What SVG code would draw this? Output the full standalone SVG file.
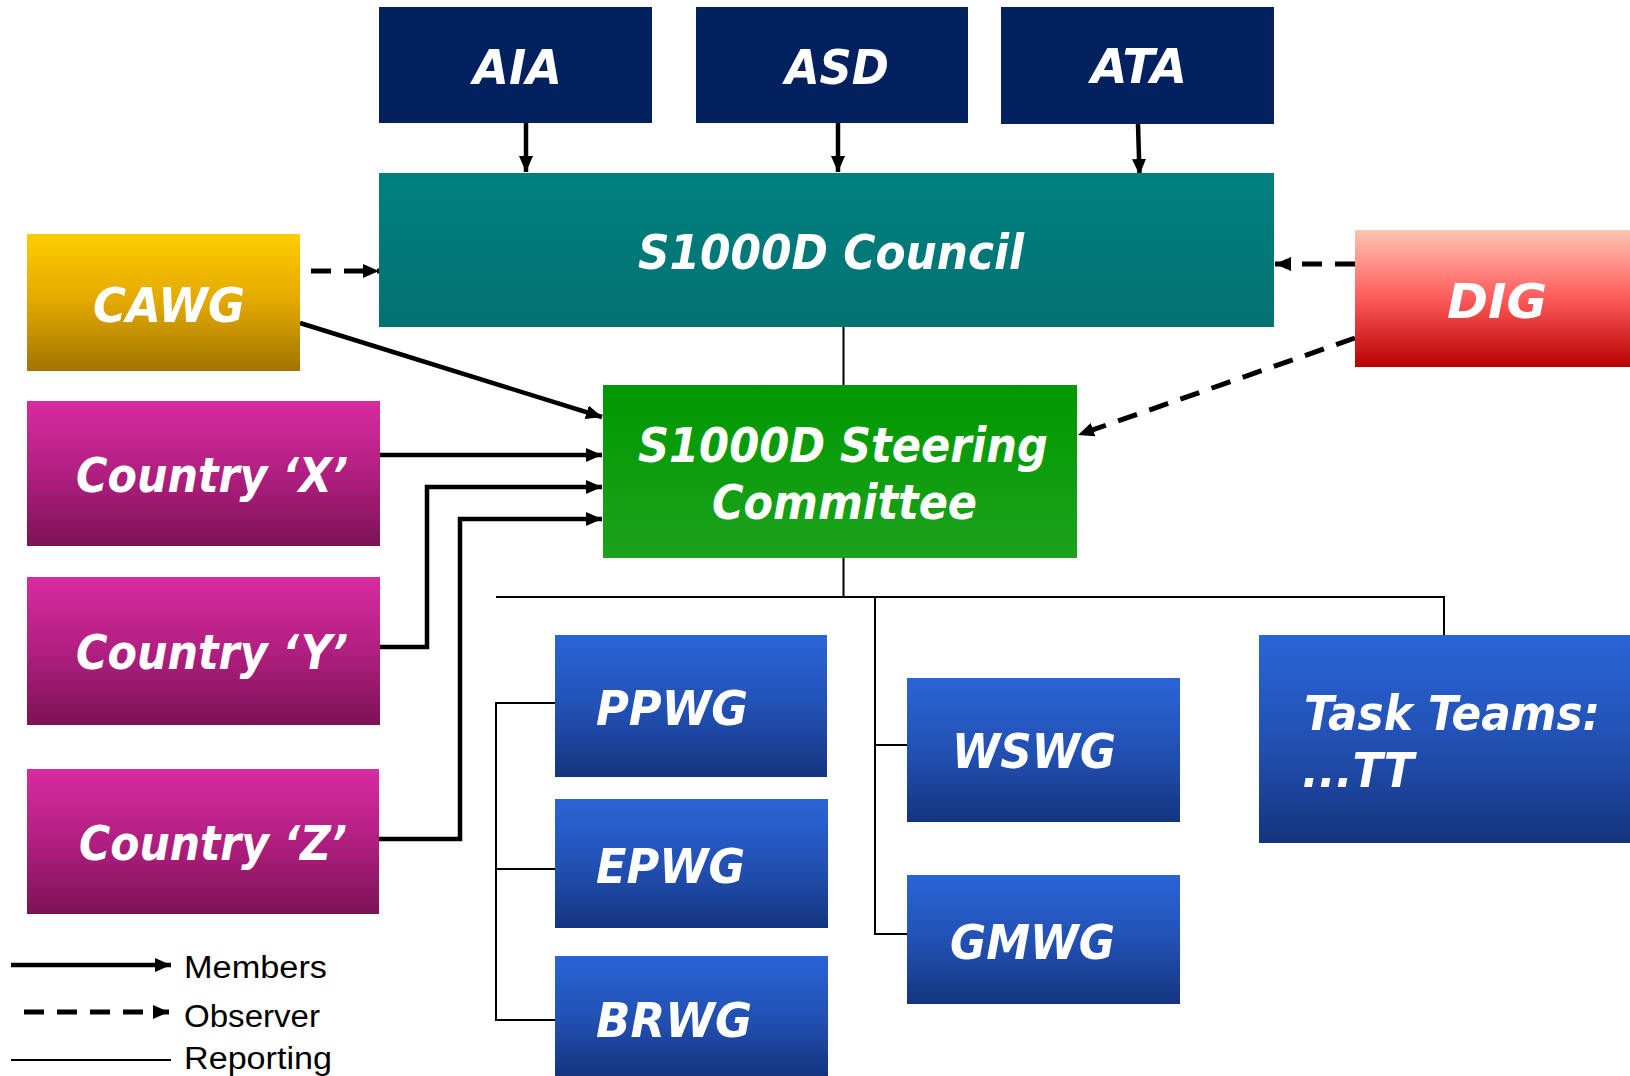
<svg xmlns="http://www.w3.org/2000/svg" width="1630" height="1076" viewBox="0 0 1630 1076">
<defs>
<linearGradient id="gTeal" x1="0" y1="0" x2="0" y2="1"><stop offset="0" stop-color="#008080"/><stop offset="1" stop-color="#047171"/></linearGradient>
<linearGradient id="gGold" x1="0" y1="0" x2="0" y2="1"><stop offset="0" stop-color="#FFCC00"/><stop offset="0.5" stop-color="#E2A800"/><stop offset="1" stop-color="#A07400"/></linearGradient>
<linearGradient id="gRed" x1="0" y1="0" x2="0" y2="1"><stop offset="0" stop-color="#FFC4B4"/><stop offset="0.5" stop-color="#FF5A5A"/><stop offset="1" stop-color="#B80000"/></linearGradient>
<linearGradient id="gPink" x1="0" y1="0" x2="0" y2="1"><stop offset="0" stop-color="#D92BA0"/><stop offset="0.5" stop-color="#B01F80"/><stop offset="1" stop-color="#7C1256"/></linearGradient>
<linearGradient id="gGreen" x1="0" y1="0" x2="0" y2="1"><stop offset="0" stop-color="#009800"/><stop offset="1" stop-color="#1CA21C"/></linearGradient>
<linearGradient id="gBlue" x1="0" y1="0" x2="0" y2="1"><stop offset="0" stop-color="#2B64D8"/><stop offset="0.55" stop-color="#214FB0"/><stop offset="1" stop-color="#14347E"/></linearGradient>
<marker id="arr" viewBox="0 0 16 14" refX="16" refY="7" markerWidth="16" markerHeight="14" markerUnits="userSpaceOnUse" orient="auto"><path d="M0,0 L16,7 L0,14 z" fill="#000"/></marker>
</defs>
<style>
.nt{font-family:"DejaVu Sans Condensed","DejaVu Sans",sans-serif;font-weight:bold;font-style:italic;font-size:48px;fill:#fff;text-anchor:middle}
.lt{font-family:"Liberation Sans",Arial,sans-serif;font-size:31px;fill:#000}
.mem{fill:none;stroke:#000;stroke-width:4.5}
.obs{fill:none;stroke:#000;stroke-width:5;stroke-dasharray:20 13}
.rep{fill:none;stroke:#000;stroke-width:2}
</style>
<rect width="1630" height="1076" fill="#fff"/>
<g id="connectors">
<line class="mem" x1="526" y1="123" x2="526" y2="172" marker-end="url(#arr)"/>
<line class="mem" x1="838" y1="123" x2="838" y2="172" marker-end="url(#arr)"/>
<line class="mem" x1="1138" y1="124" x2="1139.5" y2="175" marker-end="url(#arr)"/>
<line class="obs" x1="311" y1="271" x2="379" y2="271" marker-end="url(#arr)"/>
<line class="obs" x1="1355" y1="264" x2="1275" y2="264" marker-end="url(#arr)"/>
<line class="mem" x1="300" y1="323" x2="602" y2="417" marker-end="url(#arr)"/>
<line class="obs" x1="1355" y1="338" x2="1078" y2="435" marker-end="url(#arr)"/>
<line class="mem" x1="380" y1="455" x2="602" y2="455" marker-end="url(#arr)"/>
<polyline class="mem" points="380,647 427,647 427,487 602,487" marker-end="url(#arr)"/>
<polyline class="mem" points="379,839 460,839 460,519 602,519" marker-end="url(#arr)"/>
<line class="rep" x1="843.5" y1="327" x2="843.5" y2="385"/>
<line class="rep" x1="843.5" y1="558" x2="843.5" y2="597"/>
<line class="rep" x1="496" y1="597" x2="1445" y2="597"/>
<polyline class="rep" points="555,703 496,703 496,1020 555,1020"/>
<line class="rep" x1="496" y1="869" x2="555" y2="869"/>
<polyline class="rep" points="907,934 875,934 875,597"/>
<line class="rep" x1="875" y1="745" x2="907" y2="745"/>
<line class="rep" x1="1444" y1="597" x2="1444" y2="635"/>
</g>
<g id="aia"><rect x="379" y="7" width="273" height="116" fill="#03205F"/><text class="nt" x="517.5" y="84" textLength="89" lengthAdjust="spacingAndGlyphs">AIA</text></g>
<g id="asd"><rect x="696" y="7" width="272" height="116" fill="#03205F"/><text class="nt" x="837" y="84" textLength="104" lengthAdjust="spacingAndGlyphs">ASD</text></g>
<g id="ata"><rect x="1001" y="7" width="273" height="117" fill="#03205F"/><text class="nt" x="1139" y="83" textLength="96" lengthAdjust="spacingAndGlyphs">ATA</text></g>
<g id="council"><rect x="379" y="173" width="895" height="154" fill="url(#gTeal)"/><text class="nt" x="831" y="269" textLength="386" lengthAdjust="spacingAndGlyphs">S1000D Council</text></g>
<g id="cawg"><rect x="27" y="234" width="273" height="137" fill="url(#gGold)"/><text class="nt" x="169" y="322" textLength="152" lengthAdjust="spacingAndGlyphs">CAWG</text></g>
<g id="dig"><rect x="1355" y="230" width="275" height="137" fill="url(#gRed)"/><text class="nt" x="1497" y="318" textLength="100" lengthAdjust="spacingAndGlyphs">DIG</text></g>
<g id="steering"><rect x="603" y="385" width="474" height="173" fill="url(#gGreen)"/><text class="nt" x="843" y="462" textLength="410" lengthAdjust="spacingAndGlyphs">S1000D Steering</text><text class="nt" x="844.5" y="519" textLength="265" lengthAdjust="spacingAndGlyphs">Committee</text></g>
<g id="countryX"><rect x="27" y="401" width="353" height="145" fill="url(#gPink)"/><text class="nt" x="212" y="492" textLength="272" lengthAdjust="spacingAndGlyphs">Country ‘X’</text></g>
<g id="countryY"><rect x="27" y="577" width="353" height="148" fill="url(#gPink)"/><text class="nt" x="212" y="669" textLength="272" lengthAdjust="spacingAndGlyphs">Country ‘Y’</text></g>
<g id="countryZ"><rect x="27" y="769" width="352" height="145" fill="url(#gPink)"/><text class="nt" x="213" y="860" textLength="268" lengthAdjust="spacingAndGlyphs">Country ‘Z’</text></g>
<g id="ppwg"><rect x="555" y="635" width="272" height="142" fill="url(#gBlue)"/><text class="nt" x="672" y="725" textLength="152" lengthAdjust="spacingAndGlyphs">PPWG</text></g>
<g id="epwg"><rect x="555" y="799" width="273" height="129" fill="url(#gBlue)"/><text class="nt" x="670.5" y="883" textLength="149" lengthAdjust="spacingAndGlyphs">EPWG</text></g>
<g id="brwg"><rect x="555" y="956" width="273" height="120" fill="url(#gBlue)"/><text class="nt" x="674" y="1037" textLength="156" lengthAdjust="spacingAndGlyphs">BRWG</text></g>
<g id="wswg"><rect x="907" y="678" width="273" height="144" fill="url(#gBlue)"/><text class="nt" x="1034" y="768" textLength="164" lengthAdjust="spacingAndGlyphs">WSWG</text></g>
<g id="gmwg"><rect x="907" y="875" width="273" height="129" fill="url(#gBlue)"/><text class="nt" x="1032.5" y="959" textLength="165" lengthAdjust="spacingAndGlyphs">GMWG</text></g>
<g id="taskteams"><rect x="1259" y="635" width="371" height="208" fill="url(#gBlue)"/><text class="nt" x="1452" y="730" textLength="296" lengthAdjust="spacingAndGlyphs">Task Teams:</text><text class="nt" x="1358" y="787" textLength="112" lengthAdjust="spacingAndGlyphs">...TT</text></g>
<g id="legend">
<line class="mem" x1="11" y1="965" x2="171" y2="965" marker-end="url(#arr)"/>
<text class="lt" x="184" y="978" textLength="143" lengthAdjust="spacingAndGlyphs">Members</text>
<line class="obs" x1="24" y1="1012" x2="169" y2="1012" stroke-dasharray="19 17" marker-end="url(#arr)"/>
<text class="lt" x="184" y="1027" textLength="136" lengthAdjust="spacingAndGlyphs">Observer</text>
<line class="rep" x1="11" y1="1060" x2="171" y2="1060"/>
<text class="lt" x="184" y="1069" textLength="148" lengthAdjust="spacingAndGlyphs">Reporting</text>
</g>
</svg>
